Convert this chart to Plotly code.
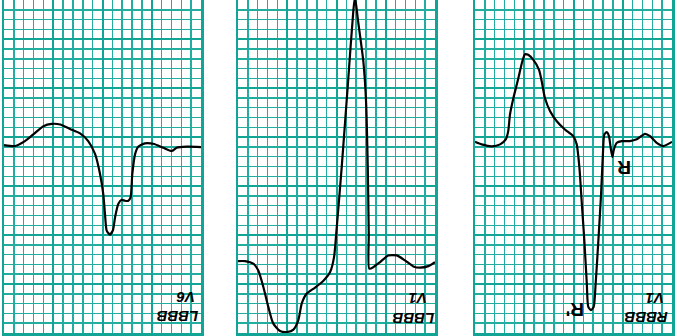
import plotly.graph_objects as go

# Time in seconds, amplitude in mV (each small box = 0.04 s x 0.1 mV)
lbbb_v6_t = [0.0, 0.045, 0.085, 0.119, 0.160, 0.194, 0.228, 0.268, 0.309, 0.342, 0.370, 0.390,
             0.403, 0.410, 0.417, 0.430, 0.442, 0.451, 0.464, 0.478, 0.491, 0.505, 0.514, 0.521,
             0.532, 0.545, 0.572, 0.606, 0.647, 0.681, 0.701, 0.742, 0.800]
lbbb_v6_mv = [-0.081, -0.091, -0.041, 0.027, 0.112, 0.135, 0.129, 0.084, 0.038, -0.041, -0.173, -0.376,
              -0.579, -0.782, -0.954, -0.995, -0.954, -0.819, -0.683, -0.640, -0.650, -0.650, -0.616, -0.379,
              -0.176, -0.098, -0.064, -0.068, -0.109, -0.142, -0.109, -0.098, -0.102]

lbbb_v1_t = [0.0, 0.028, 0.062, 0.082, 0.103, 0.123, 0.143, 0.171, 0.198, 0.225, 0.245, 0.259,
             0.279, 0.313, 0.346, 0.374, 0.390, 0.401, 0.421, 0.448, 0.468, 0.475, 0.488, 0.509,
             0.520, 0.527, 0.531, 0.533, 0.550, 0.577, 0.610, 0.645, 0.678, 0.712, 0.739, 0.773, 0.800]
lbbb_v1_mv = [-1.266, -1.266, -1.292, -1.360, -1.530, -1.733, -1.902, -1.980, -1.990, -1.965, -1.868, -1.698,
              -1.597, -1.536, -1.469, -1.378, -1.225, -0.921, -0.312, 0.602, 1.279, 1.430, 1.178, 0.772,
              0.365, -0.312, -0.988, -1.343, -1.327, -1.276, -1.208, -1.208, -1.259, -1.320, -1.333, -1.317, -1.276]

rbbb_v1_t = [0.0, 0.027, 0.068, 0.102, 0.125, 0.135, 0.142, 0.156, 0.176, 0.192, 0.203, 0.216,
             0.237, 0.260, 0.271, 0.284, 0.305, 0.332, 0.365, 0.399, 0.413, 0.424, 0.433, 0.444,
             0.454, 0.460, 0.471, 0.482, 0.490, 0.501, 0.512, 0.520, 0.525, 0.535, 0.544, 0.551,
             0.558, 0.564, 0.576, 0.596, 0.629, 0.657, 0.690, 0.711, 0.738, 0.765, 0.800]
rbbb_v1_mv = [-0.048, -0.074, -0.094, -0.074, -0.023, 0.061, 0.230, 0.399, 0.602, 0.772, 0.846, 0.840,
              0.789, 0.687, 0.569, 0.399, 0.264, 0.162, 0.078, 0.010, -0.074, -0.312, -0.650, -1.056,
              -1.495, -1.733, -1.766, -1.733, -1.495, -1.056, -0.582, -0.142, 0.027, 0.051, 0.010, -0.109,
              -0.203, -0.125, -0.058, -0.041, -0.041, -0.023, 0.034, 0.010, -0.058, -0.091, -0.048]

panel_labels = [("LBBB", "V6"), ("LBBB", "V1"), ("RBBB", "V1")]

GRID_MAJOR = "#12a595"
GRID_MINOR = "#22ad9e"

fig = go.Figure()
series = [(lbbb_v6_t, lbbb_v6_mv), (lbbb_v1_t, lbbb_v1_mv), (rbbb_v1_t, rbbb_v1_mv)]
domains = [[4/677, 201/677], [238/677, 435/677], [475/677, 672/677]]

for i, (t, mv) in enumerate(series):
    sfx = "" if i == 0 else str(i + 1)
    fig.add_trace(go.Scatter(x=t, y=mv, mode="lines", xaxis="x" + sfx, yaxis="y" + sfx,
                             line=dict(color="black", width=2.2, shape="spline", smoothing=0.6),
                             showlegend=False, hoverinfo="skip"))
    ax = dict(range=[0, 0.8], domain=domains[i], dtick=0.2, tick0=0, showgrid=True,
              gridcolor=GRID_MAJOR, gridwidth=2, zeroline=False, showticklabels=False, ticks="",
              showline=True, linecolor=GRID_MAJOR, linewidth=2.5, mirror=False,
              minor=dict(dtick=0.04, tick0=0, showgrid=True, gridcolor=GRID_MINOR, gridwidth=1.5),
              anchor="y" + sfx)
    ay = dict(range=[-2.0, 1.4], domain=[3/336, 1], dtick=0.5, tick0=0, showgrid=True,
              gridcolor=GRID_MAJOR, gridwidth=2, zeroline=False, showticklabels=False, ticks="",
              showline=True, linecolor=GRID_MAJOR, linewidth=2.5, mirror=True,
              minor=dict(dtick=0.1, tick0=0, showgrid=True, gridcolor=GRID_MINOR, gridwidth=1.5),
              anchor="x" + sfx)
    fig.update_layout(**{"xaxis" + sfx: ax, "yaxis" + sfx: ay})

# Labels (page is shown rotated by 180 degrees)
label_pos = [((0.703, -1.838), (0.735, -1.645)),
             ((0.711, -1.858), (0.731, -1.655)),
             ((0.694, -1.848), (0.731, -1.655))]
font = dict(family="Liberation Sans, Arial", size=15, color="black")
for i, ((l1, l2), (p1, p2)) in enumerate(zip(panel_labels, label_pos)):
    sfx = "" if i == 0 else str(i + 1)
    for txt, (x, y) in ((l1, p1), (l2, p2)):
        fig.add_annotation(x=x, y=y, xref="x" + sfx, yref="y" + sfx, text="<b><i>" + txt + "</i></b>",
                           showarrow=False, textangle=180, font=font, xanchor="center", yanchor="middle")

big = dict(family="Liberation Sans, Arial", size=19, color="black")
fig.add_annotation(x=0.406, y=-1.766, xref="x3", yref="y3", text="<b>R'</b>", showarrow=False,
                   textangle=180, font=big)
fig.add_annotation(x=0.605, y=-0.305, xref="x3", yref="y3", text="<b>R</b>", showarrow=False,
                   textangle=180, font=big)

fig.update_layout(width=677, height=336, margin=dict(l=0, r=0, t=0, b=0),
                  paper_bgcolor="white", plot_bgcolor="white")
fig.write_html("out.html", config={"displayModeBar": False, "staticPlot": True},
               post_script="document.body.style.margin='0';document.body.style.overflow='hidden';")
